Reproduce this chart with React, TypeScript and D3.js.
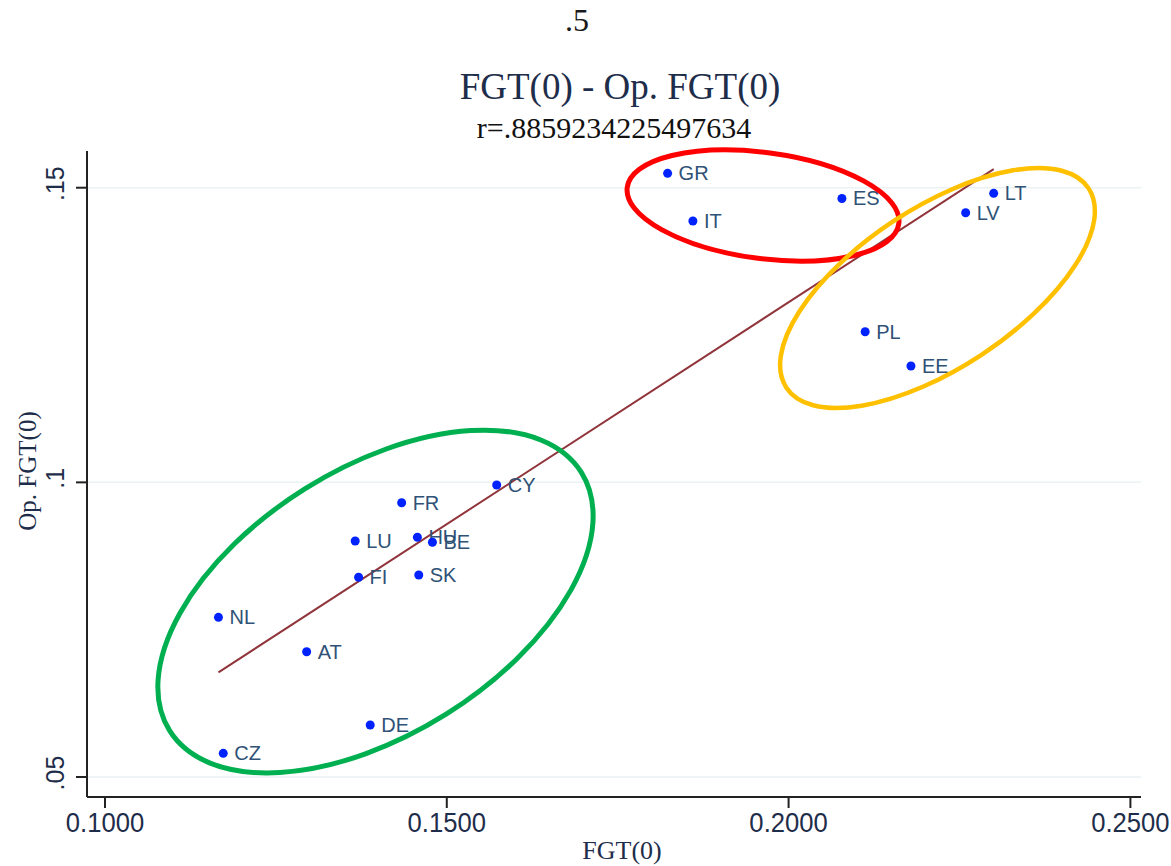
import React from "react";
import * as d3 from "d3";

const countries = ["GR", "IT", "ES", "LT", "LV", "PL", "EE", "CY", "FR", "LU", "HU", "BE", "FI", "SK", "NL", "AT", "DE", "CZ"];
const fgt0 = [0.1823, 0.1860, 0.2078, 0.2300, 0.2259, 0.2112, 0.2179, 0.1573, 0.1434, 0.1366, 0.1457, 0.1479, 0.1371, 0.1459, 0.1166, 0.1295, 0.1388, 0.1173];
const opFgt0 = [0.15244, 0.14435, 0.14817, 0.14905, 0.14576, 0.12556, 0.11974, 0.09955, 0.09655, 0.09005, 0.09068, 0.08983, 0.08389, 0.08428, 0.07710, 0.07126, 0.05882, 0.05402];

const xTicks = [0.1, 0.15, 0.2, 0.25];
const xTickLabels = ["0.1000", "0.1500", "0.2000", "0.2500"];
const yTicks = [0.05, 0.1, 0.15];
const yTickLabels = [".05", ".1", ".15"];

const topNote = ".5";
const title = "FGT(0) - Op. FGT(0)";
const subtitle = "r=.8859234225497634";
const xTitle = "FGT(0)";
const yTitle = "Op. FGT(0)";

// annotation ellipses: centre in data units
const ellipseCx = [0.19626, 0.22178, 0.13957];
const ellipseCy = [0.14698, 0.13298, 0.07978];
const ellipseColors = ["#ff0000", "#ffc000", "#00b050"];
const ellipseRx = [137, 181, 243];
const ellipseRy = [53, 80, 133];
const ellipseRot = [7.6, -33.4, -32.1];

export default function App() {
  const W = 1171, H = 866;
  const left = 87, right = 1141, top = 151, bottom = 797;
  const x = d3.scaleLinear().domain([0.09737, 0.25155]).range([left, right]);
  const y = d3.scaleLinear().domain([0.04661, 0.15623]).range([bottom, top]);

  const mx = d3.mean(fgt0)!;
  const my = d3.mean(opFgt0)!;
  let sxy = 0, sxx = 0;
  fgt0.forEach((v, i) => { sxy += (v - mx) * (opFgt0[i] - my); sxx += (v - mx) * (v - mx); });
  const b = sxy / sxx;
  const a = my - b * mx;
  const [xmin, xmax] = d3.extent(fgt0) as [number, number];
  const line = d3.line<number>().x(d => x(d)).y(d => y(a + b * d));

  const serif = "'Liberation Serif', 'Times New Roman', serif";
  const sans = "'Liberation Sans', Arial, sans-serif";

  return (
    <svg width={W} height={H} style={{ position: "absolute", left: 0, top: 0, background: "#fff" }}>
      <rect width={W} height={H} fill="#fff" />
      <text x={577} y={31} fontFamily={serif} fontSize={32} textAnchor="middle" fill="#1a1a1a">{topNote}</text>
      <text x={620} y={99} fontFamily={serif} fontSize={37} textAnchor="middle" fill="#1e2d4a">{title}</text>
      <text x={614} y={138} fontFamily={serif} fontSize={30} textAnchor="middle" fill="#111">{subtitle}</text>

      {yTicks.map(t => (
        <line key={"g" + t} x1={left} x2={right} y1={y(t)} y2={y(t)} stroke="#eaf2f3" strokeWidth={1.5} />
      ))}

      <path d={line([xmin, xmax]) || ""} stroke="#90353b" strokeWidth={2} fill="none" />

      {countries.map((c, i) => (
        <g key={c}>
          <circle cx={x(fgt0[i])} cy={y(opFgt0[i])} r={4.5} fill="#0022ff" />
          <text x={x(fgt0[i]) + 11} y={y(opFgt0[i]) + 7} fontFamily={sans} fontSize={20} fill="#2f5276">{c}</text>
        </g>
      ))}

      {ellipseCx.map((cx, i) => (
        <ellipse key={"e" + i} cx={0} cy={0} rx={ellipseRx[i]} ry={ellipseRy[i]} fill="none"
          stroke={ellipseColors[i]} strokeWidth={i === 1 ? 4.5 : 5}
          transform={`translate(${x(cx)},${y(ellipseCy[i])}) rotate(${ellipseRot[i]})`} />
      ))}

      <line x1={left} x2={left} y1={top} y2={bottom} stroke="#222" strokeWidth={2} />
      <line x1={left} x2={right} y1={bottom} y2={bottom} stroke="#222" strokeWidth={2} />

      {xTicks.map((t, i) => (
        <g key={"x" + t}>
          <line x1={x(t)} x2={x(t)} y1={bottom} y2={bottom + 11} stroke="#222" strokeWidth={2} />
          <text x={x(t)} y={832} fontFamily={sans} fontSize={27} textAnchor="middle" fill="#1e2d4a"
            transform={`translate(${x(t)},0) scale(0.95,1) translate(${-x(t)},0)`}>{xTickLabels[i]}</text>
        </g>
      ))}
      {yTicks.map((t, i) => (
        <g key={"y" + t}>
          <line x1={left - 11} x2={left} y1={y(t)} y2={y(t)} stroke="#222" strokeWidth={2} />
          <text x={0} y={0} fontFamily={sans} fontSize={25} textAnchor="middle" fill="#1e2d4a"
            transform={`translate(64,${y(t) - 4}) rotate(-90)`}>{yTickLabels[i]}</text>
        </g>
      ))}
      <text x={622} y={859} fontFamily={serif} fontSize={26} textAnchor="middle" fill="#1e2d4a">{xTitle}</text>
      <text x={0} y={0} fontFamily={serif} fontSize={25} textAnchor="middle" fill="#1e2d4a"
        transform={`translate(36,471) rotate(-90)`}>{yTitle}</text>
    </svg>
  );
}
